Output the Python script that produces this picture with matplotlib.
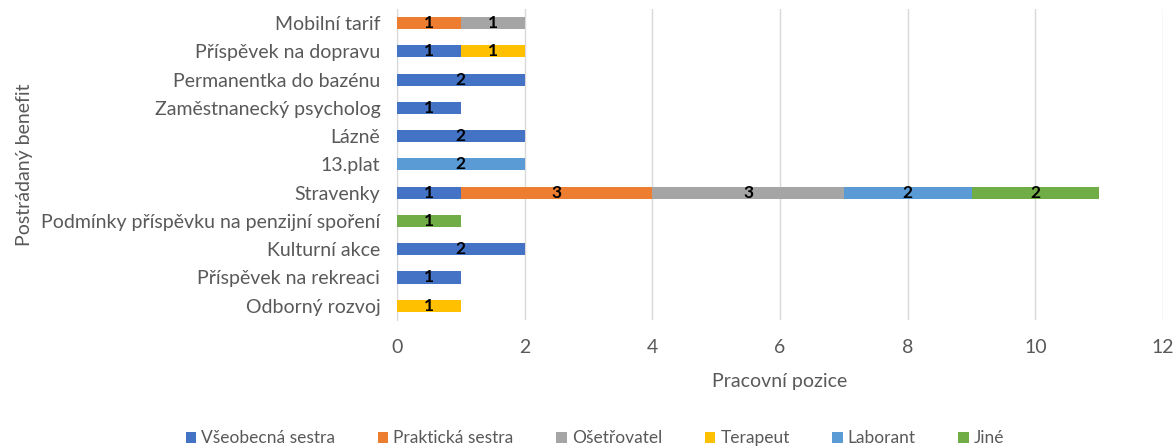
import matplotlib.pyplot as plt
import numpy as np

# Kategorie (odspodu nahoru) a počty podle pracovní pozice
benefity = [
    "Odborný rozvoj",
    "Příspěvek na rekreaci",
    "Kulturní akce",
    "Podmínky příspěvku na penzijní spoření",
    "Stravenky",
    "13.plat",
    "Lázně",
    "Zaměstnanecký psycholog",
    "Permanentka do bazénu",
    "Příspěvek na dopravu",
    "Mobilní tarif",
]
vseobecna_sestra = [0, 1, 2, 0, 1, 0, 2, 1, 2, 1, 0]
prakticka_sestra = [0, 0, 0, 0, 3, 0, 0, 0, 0, 0, 1]
osetrovatel = [0, 0, 0, 0, 3, 0, 0, 0, 0, 0, 1]
terapeut = [1, 0, 0, 0, 0, 0, 0, 0, 0, 1, 0]
laborant = [0, 0, 0, 0, 2, 2, 0, 0, 0, 0, 0]
jine = [0, 0, 0, 1, 2, 0, 0, 0, 0, 0, 0]

pozice = ["Všeobecná sestra", "Praktická sestra", "Ošetřovatel",
          "Terapeut", "Laborant", "Jiné"]
barvy = ["#4472C4", "#ED7D31", "#A5A5A5", "#FFC000", "#5B9BD5", "#70AD47"]
serie = [vseobecna_sestra, prakticka_sestra, osetrovatel, terapeut, laborant, jine]

plt.rcParams['font.family'] = ['Lato', 'DejaVu Sans']
seda = "#595959"

fig = plt.figure(figsize=(11.76, 4.48), dpi=100)
ax = fig.add_axes([0.3376, 0.286, 0.6514, 0.694])

y = np.arange(len(benefity))
zaklad = np.zeros(len(benefity))
for nazev, hodnoty, barva in zip(pozice, serie, barvy):
    hodnoty = np.array(hodnoty, dtype=float)
    ax.barh(y, hodnoty, left=zaklad, height=0.43, color=barva, label=nazev, zorder=3)
    for yi, (z, h) in enumerate(zip(zaklad, hodnoty)):
        if h > 0:
            ax.text(z + h / 2, yi, f"{int(h)}", ha='center', va='center',
                    fontsize=12.5, fontweight='bold', color='black', zorder=4)
    zaklad += hodnoty

ax.set_xlim(0, 12)
ax.set_ylim(-0.5, len(benefity) - 0.5)
ax.set_xticks(range(0, 13, 2))
ax.set_yticks(y)
ax.set_yticklabels(benefity)
ax.tick_params(axis='both', length=0, labelsize=14, colors=seda)
ax.tick_params(axis='x', pad=14)
ax.tick_params(axis='y', pad=12)
ax.grid(axis='x', color='#d9d9d9', linewidth=1, zorder=0)
for s in ['top', 'right', 'bottom']:
    ax.spines[s].set_visible(False)
ax.spines['left'].set_color('#d9d9d9')

ax.set_xlabel("Pracovní pozice", fontsize=14, color=seda, labelpad=12)
ax.set_ylabel("Postrádaný benefit", fontsize=14, color=seda)
ax.yaxis.set_label_coords(-0.475, 0.5)

fig.legend(loc='center', bbox_to_anchor=(0.506, 0.022), ncol=6, frameon=False,
           fontsize=12.5, handlelength=0.6, handleheight=0.6, handletextpad=0.3,
           columnspacing=2.45, labelcolor=seda)

fig.savefig("out.png", dpi=100)
